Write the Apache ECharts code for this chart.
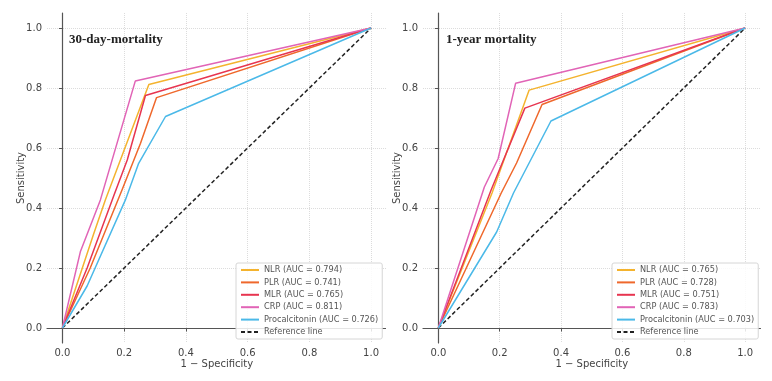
<!DOCTYPE html>
<html>
<head>
<meta charset="utf-8">
<script src="https://cdn.jsdelivr.net/npm/echarts@6/dist/echarts.min.js"></script>
<style>
html, body { margin: 0; padding: 0; background: #fff; }
#wrap { width: 772px; height: 381px; display: flex; }
#chart-one, #chart-two { width: 386px; height: 381px; }
</style>
</head>
<body>
<div id="wrap"><div id="chart-one"></div><div id="chart-two"></div></div>
<script>
// markers and colours
var markers = ['NLR', 'PLR', 'MLR', 'CRP', 'Procalcitonin'];
var colors = ['#f4b32e', '#ef682c', '#e73550', '#e164b6', '#4bb9e8'];
var ticks = [0, 0.2, 0.4, 0.6, 0.8, 1.0];

// 30-day mortality: AUC and ROC points [1 - specificity, sensitivity]
var auc30 = [0.794, 0.741, 0.765, 0.811, 0.726];
var nlr30 = [[0, 0], [0.10, 0.31], [0.139, 0.427], [0.28, 0.812], [1, 1]];
var plr30 = [[0, 0], [0.09, 0.20], [0.193, 0.46], [0.253, 0.616], [0.305, 0.768], [1, 1]];
var mlr30 = [[0, 0], [0.08, 0.20], [0.166, 0.44], [0.21, 0.56], [0.269, 0.775], [1, 1]];
var crp30 = [[0, 0], [0.058, 0.254], [0.123, 0.427], [0.236, 0.823], [1, 1]];
var pct30 = [[0, 0], [0.08, 0.14], [0.204, 0.427], [0.247, 0.549], [0.334, 0.705], [1, 1]];

// 1-year mortality
var auc1y = [0.765, 0.728, 0.751, 0.783, 0.703];
var nlr1y = [[0, 0], [0.175, 0.45], [0.296, 0.793], [1, 1]];
var plr1y = [[0, 0], [0.205, 0.45], [0.255, 0.55], [0.338, 0.745], [1, 1]];
var mlr1y = [[0, 0], [0.172, 0.46], [0.282, 0.733], [1, 1]];
var crp1y = [[0, 0], [0.15, 0.47], [0.195, 0.565], [0.252, 0.816], [1, 1]];
var pct1y = [[0, 0], [0.19, 0.32], [0.245, 0.45], [0.367, 0.69], [1, 1]];

var refLine = [[0, 0], [1, 1]];

function axisOpt(name, gap) {
    return {
        type: 'value',
        min: -0.05,
        max: 1.05,
        name: name,
        nameLocation: 'middle',
        nameGap: gap,
        nameMoveOverlap: false,
        nameTextStyle: { fontSize: 10, color: '#444', fontFamily: 'DejaVu Sans' },
        axisLine: { show: true, lineStyle: { color: '#555', width: 1.2 } },
        axisTick: { show: true, length: 3.5, customValues: ticks, lineStyle: { color: '#555' } },
        axisLabel: {
            customValues: ticks, fontSize: 10, color: '#444', margin: 5,
            fontFamily: 'DejaVu Sans',
            formatter: function (v) { return v.toFixed(1); }
        },
        splitLine: { show: true, lineStyle: { color: '#dcdcdc', type: 'dotted', width: 1 } }
    };
}

function makeOption(title, titleLeft, gridLeft, gridWidth, legendLeft, aucs, curves) {
    var series = [];
    var legendData = [];
    for (var i = 0; i < markers.length; i++) {
        var nm = markers[i] + ' (AUC = ' + aucs[i].toFixed(3) + ')';
        legendData.push(nm);
        series.push({
            name: nm,
            type: 'line',
            data: curves[i],
            symbol: 'none',
            z: 3,
            lineStyle: { color: colors[i], width: 1.5 },
            itemStyle: { color: colors[i] }
        });
    }
    legendData.push('Reference line');
    series.unshift({
        name: 'Reference line',
        type: 'line',
        data: refLine,
        symbol: 'none',
        z: 2,
        lineStyle: { color: '#222', width: 1.5, type: [4, 2.5] },
        itemStyle: { color: '#222' }
    });
    return {
        animation: false,
        backgroundColor: '#fff',
        title: {
            text: title,
            left: titleLeft,
            top: 33,
            padding: 0,
            textStyle: { fontFamily: 'Liberation Serif', fontWeight: 'bold', fontSize: 13, color: '#222' }
        },
        grid: { left: gridLeft, top: 13, width: gridWidth, height: 330, containLabel: false, outerBoundsMode: 'none' },
        legend: {
            data: legendData,
            orient: 'vertical',
            left: legendLeft,
            top: 263,
            padding: [3, 4, 3, 4],
            itemGap: 4.4,
            itemWidth: 18,
            itemHeight: 8,
            itemStyle: { opacity: 0 },
            backgroundColor: 'rgba(255,255,255,0.85)',
            borderColor: '#d6d6d6',
            borderWidth: 1,
            borderRadius: 2,
            textStyle: { fontSize: 8.2, color: '#555', fontFamily: 'DejaVu Sans' }
        },
        xAxis: axisOpt('1 \u2212 Specificity', 16),
        yAxis: axisOpt('Sensitivity', 21),
        series: series
    };
}

var chart_one = echarts.init(document.getElementById('chart-one'));
chart_one.setOption(makeOption('30-day-mortality', 69, 47, 339.5, 236, auc30,
    [nlr30, plr30, mlr30, crp30, pct30]));

var chart_two = echarts.init(document.getElementById('chart-two'));
chart_two.setOption(makeOption('1-year mortality', 60, 37, 337.5, 226, auc1y,
    [nlr1y, plr1y, mlr1y, crp1y, pct1y]));
</script>
</body>
</html>
